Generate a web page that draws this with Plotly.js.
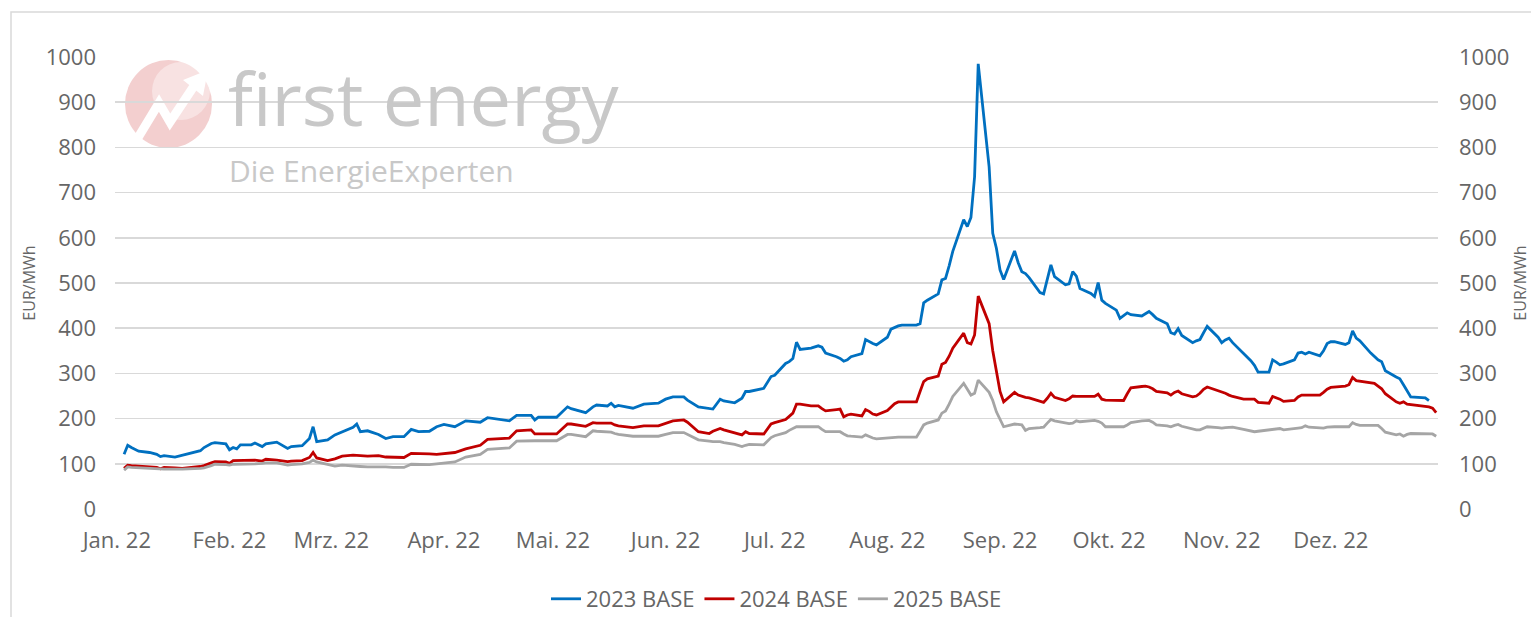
<!DOCTYPE html>
<html>
<head>
<meta charset="utf-8">
<script src="https://cdn.plot.ly/plotly-3.0.1.min.js"></script>
<style>
  html, body { margin: 0; padding: 0; background: #fff; }
  #chart { width: 1531px; height: 617px; }
</style>
</head>
<body>
<div id="chart"></div>
<script>
// trading days 2022
var dates = [
  '2022-01-03','2022-01-04','2022-01-05','2022-01-07','2022-01-10','2022-01-12','2022-01-13','2022-01-14','2022-01-17','2022-01-19','2022-01-24','2022-01-25','2022-01-27','2022-01-28','2022-01-31',
  '2022-02-01','2022-02-02','2022-02-03','2022-02-04','2022-02-07','2022-02-08','2022-02-10','2022-02-11','2022-02-14','2022-02-17','2022-02-18','2022-02-21','2022-02-23','2022-02-24','2022-02-25','2022-02-28',
  '2022-03-02','2022-03-04','2022-03-07','2022-03-08','2022-03-09','2022-03-11','2022-03-14','2022-03-16','2022-03-18','2022-03-21','2022-03-23','2022-03-25','2022-03-28','2022-03-30',
  '2022-04-01','2022-04-04','2022-04-07','2022-04-11','2022-04-13','2022-04-19','2022-04-21','2022-04-25','2022-04-26','2022-04-27',
  '2022-05-02','2022-05-05','2022-05-06','2022-05-10','2022-05-12','2022-05-13','2022-05-16','2022-05-17','2022-05-18','2022-05-19','2022-05-23','2022-05-26','2022-05-30',
  '2022-06-01','2022-06-03','2022-06-06','2022-06-07','2022-06-10','2022-06-13','2022-06-14','2022-06-16','2022-06-17','2022-06-20','2022-06-22','2022-06-23','2022-06-24','2022-06-28','2022-06-30',
  '2022-07-01','2022-07-04','2022-07-05','2022-07-06','2022-07-07','2022-07-08','2022-07-11','2022-07-12','2022-07-13','2022-07-14','2022-07-15','2022-07-18','2022-07-19','2022-07-20','2022-07-21','2022-07-22','2022-07-25','2022-07-26','2022-07-27','2022-07-28','2022-07-29',
  '2022-08-01','2022-08-02','2022-08-03','2022-08-04','2022-08-05','2022-08-08','2022-08-09','2022-08-10','2022-08-11','2022-08-12','2022-08-15','2022-08-16','2022-08-17','2022-08-18','2022-08-19','2022-08-22','2022-08-23','2022-08-24','2022-08-25','2022-08-26','2022-08-29','2022-08-30','2022-08-31',
  '2022-09-01','2022-09-02','2022-09-05','2022-09-06','2022-09-07','2022-09-08','2022-09-09','2022-09-12','2022-09-13','2022-09-14','2022-09-15','2022-09-16','2022-09-19','2022-09-20','2022-09-21','2022-09-22','2022-09-23','2022-09-26','2022-09-27','2022-09-28','2022-09-29','2022-09-30',
  '2022-10-03','2022-10-04','2022-10-05','2022-10-06','2022-10-07','2022-10-10','2022-10-11','2022-10-12','2022-10-13','2022-10-14','2022-10-17','2022-10-18','2022-10-19','2022-10-20','2022-10-21','2022-10-24','2022-10-25','2022-10-26','2022-10-27','2022-10-28','2022-10-31',
  '2022-11-01','2022-11-02','2022-11-03','2022-11-04','2022-11-07','2022-11-08','2022-11-09','2022-11-10','2022-11-11','2022-11-14','2022-11-15','2022-11-16','2022-11-17','2022-11-18','2022-11-21','2022-11-22','2022-11-23','2022-11-24','2022-11-25','2022-11-28','2022-11-29','2022-11-30',
  '2022-12-01','2022-12-02','2022-12-05','2022-12-06','2022-12-07','2022-12-08','2022-12-09','2022-12-12','2022-12-13','2022-12-14','2022-12-15','2022-12-16','2022-12-19','2022-12-20','2022-12-21','2022-12-22','2022-12-23','2022-12-27','2022-12-28','2022-12-29','2022-12-30'
];

var base2023 = [
  121,141,136,128,125,121,116,118,115,119,129,136,145,147,144,
  131,136,133,142,142,146,138,144,148,134,138,140,156,182,149,153,
  164,171,181,188,171,173,165,156,160,160,176,171,172,182,
  187,182,195,192,202,195,207,207,197,203,
  203,226,222,213,226,230,228,234,226,229,223,232,234,
  243,248,248,241,226,221,221,243,239,235,245,260,260,267,293,
  296,322,326,333,369,353,356,359,361,358,345,337,333,327,330,337,344,375,370,366,363,
  380,398,402,405,407,407,407,410,456,462,476,507,510,538,570,640,625,645,735,985,757,610,577,
  529,508,571,545,525,521,512,479,476,505,540,514,496,498,525,515,488,477,470,501,462,455,
  440,422,428,434,430,427,432,437,430,422,410,390,387,399,384,368,372,375,390,404,380,
  368,374,378,368,345,337,328,318,303,303,330,325,319,321,330,345,347,343,347,339,350,366,
  370,370,364,368,394,378,372,345,338,330,326,306,292,288,275,260,248,246,240,null,null
];

var base2024 = [
  90,97,96,95,94,92,89,92,91,90,94,96,102,105,104,
  101,107,107,108,108,108,106,110,108,105,106,107,114,125,113,107,
  111,117,119,118,118,117,118,115,114,114,123,123,122,121,
  122,125,133,141,154,157,173,175,166,166,
  166,188,188,183,191,190,190,190,186,184,180,184,184,
  189,195,197,192,171,167,172,178,175,169,164,171,167,166,188,
  191,198,205,212,232,232,228,228,228,222,217,220,221,204,208,210,206,220,216,210,208,
  218,226,233,237,237,237,237,260,282,288,294,320,324,338,356,389,368,365,385,471,410,350,300,
  260,237,258,252,249,247,246,238,236,245,256,247,240,244,250,249,249,249,249,254,243,241,
  240,239,240,255,268,271,272,270,266,260,257,252,258,261,255,248,250,256,265,270,262,
  258,256,252,249,243,243,243,243,236,234,249,246,243,238,240,248,252,252,252,252,258,265,
  269,270,272,275,291,284,283,280,278,272,266,255,237,234,237,232,231,228,226,223,213
];

var base2025 = [
  86,93,92,91,90,88,87,88,88,88,90,91,96,99,98,
  97,99,99,100,100,100,101,102,102,97,98,100,103,108,104,98,
  95,97,96,96,94,93,94,93,92,92,99,98,98,100,
  101,104,115,121,132,135,150,152,151,151,
  151,165,165,160,173,172,171,170,167,165,161,161,161,
  165,169,169,165,153,150,149,149,147,143,138,141,143,142,158,
  162,169,174,178,182,182,182,182,182,176,171,171,171,166,162,161,159,164,160,157,155,
  157,159,159,159,159,159,159,172,186,190,197,212,217,232,249,278,265,252,256,285,258,240,215,
  198,182,188,187,186,174,178,180,181,190,198,195,190,189,190,195,193,194,196,194,190,182,
  181,182,182,186,191,195,196,196,192,186,184,182,185,187,183,176,175,175,179,182,180,
  179,180,181,181,176,174,172,171,172,175,176,177,178,175,177,179,180,184,181,179,179,181,
  182,182,182,182,191,187,185,185,185,185,178,170,164,166,161,165,167,167,167,166,161
];

var seriesNames = ['2023 BASE', '2024 BASE', '2025 BASE'];
var seriesColors = ['#0070c0', '#c00000', '#a5a5a5'];
var monthTicks = ['2022-01-01','2022-02-01','2022-03-01','2022-04-01','2022-05-01','2022-06-01',
                  '2022-07-01','2022-08-01','2022-09-01','2022-10-01','2022-11-01','2022-12-01'];
var monthLabels = ['Jan. 22','Feb. 22','Mrz. 22','Apr. 22','Mai. 22','Jun. 22',
                   'Jul. 22','Aug. 22','Sep. 22','Okt. 22','Nov. 22','Dez. 22'];

// page geometry in pixels, used to place the watermark and frame
var W = 1531, H = 617, ML = 115, MR = 93, MT = 57, MB = 108;
function px(x) { return (x - ML) / (W - ML - MR); }
function py(y) { return (H - MB - y) / (H - MT - MB); }
function pathFrom(points) {
  return points.map(function (p, i) {
    return (i ? 'L' : 'M') + px(p[0]).toFixed(5) + ',' + py(p[1]).toFixed(5);
  }).join(' ');
}

var fontFam = 'Open Sans, sans-serif';
var textGrey = '#666666';

var data = [
  { x: dates, y: base2023, name: seriesNames[0], type: 'scatter', mode: 'lines', yaxis: 'y2',
    line: { color: seriesColors[0], width: 2.8 }, connectgaps: false },
  { x: dates, y: base2024, name: seriesNames[1], type: 'scatter', mode: 'lines',
    line: { color: seriesColors[1], width: 2.8 } },
  { x: dates, y: base2025, name: seriesNames[2], type: 'scatter', mode: 'lines',
    line: { color: seriesColors[2], width: 2.8 } }
];

var layout = {
  width: W, height: H,
  margin: { l: ML, r: MR, t: MT, b: MB, autoexpand: false },
  paper_bgcolor: '#ffffff', plot_bgcolor: '#ffffff',
  font: { family: fontFam, size: 22, color: textGrey },
  hovermode: false,
  showlegend: true,
  legend: {
    orientation: 'h', x: 0.5, xanchor: 'center', y: py(599), yanchor: 'middle',
    font: { family: fontFam, size: 22, color: textGrey }, bgcolor: 'rgba(0,0,0,0)'
  },
  xaxis: {
    type: 'date', range: ['2021-12-31 12:00', '2022-12-30 12:00'],
    tickmode: 'array', tickvals: monthTicks, ticktext: monthLabels,
    showgrid: false, zeroline: false, showline: false, ticks: '',
    ticklabelstandoff: 16,
    tickfont: { family: fontFam, size: 22, color: textGrey }
  },
  yaxis: {
    range: [0, 1000], tick0: 0, dtick: 100,
    showgrid: true, gridcolor: '#d9d9d9', gridwidth: 1.5,
    zeroline: false, showline: false, ticks: '',
    ticklabelstandoff: 18,
    tickfont: { family: fontFam, size: 22, color: textGrey },
    title: { text: 'EUR/MWh', standoff: 6, font: { family: fontFam, size: 16, color: textGrey } }
  },
  yaxis2: {
    overlaying: 'y', side: 'right',
    range: [0, 1000], tick0: 0, dtick: 100,
    showgrid: false, zeroline: false, showline: false, ticks: '',
    ticklabelstandoff: 20,
    tickfont: { family: fontFam, size: 22, color: textGrey },
    title: { text: 'EUR/MWh', standoff: 30, font: { family: fontFam, size: 16, color: textGrey } }
  },
  shapes: [
    // outer frame
    { type: 'rect', xref: 'paper', yref: 'paper', layer: 'below',
      x0: px(11), x1: px(1560), y0: py(640), y1: py(12),
      line: { color: '#d9d9d9', width: 1.5 }, fillcolor: 'rgba(0,0,0,0)' },
    // logo disc
    { type: 'circle', xref: 'paper', yref: 'paper', layer: 'below',
      x0: px(125), x1: px(212), y0: py(148), y1: py(60),
      line: { width: 0 }, fillcolor: '#f3cfcf' },
    { type: 'circle', xref: 'paper', yref: 'paper', layer: 'below',
      x0: px(152), x1: px(210), y0: py(120), y1: py(62),
      line: { width: 0 }, fillcolor: 'rgba(255,255,255,0.4)' },
    // logo zigzag arrow
    { type: 'path', xref: 'paper', yref: 'paper', layer: 'below',
      path: pathFrom([[136, 141], [159, 103], [170, 122], [194, 86]]),
      line: { color: '#ffffff', width: 9 } },
    { type: 'path', xref: 'paper', yref: 'paper', layer: 'below',
      path: pathFrom([[183, 80], [208, 70], [203, 96]]) + ' Z',
      line: { width: 0 }, fillcolor: '#ffffff' }
  ],
  annotations: [
    { text: 'first energy', xref: 'paper', yref: 'paper', x: px(226), y: py(98),
      xanchor: 'left', yanchor: 'middle', showarrow: false,
      font: { family: fontFam, size: 74, color: '#c8c8c8' } },
    { text: 'Die EnergieExperten', xref: 'paper', yref: 'paper', x: px(227), y: py(170),
      xanchor: 'left', yanchor: 'middle', showarrow: false,
      font: { family: fontFam, size: 30, color: '#c8c8c8' } }
  ]
};

var config = { displayModeBar: false, responsive: false, staticPlot: true };

Plotly.newPlot('chart', data, layout, config);
</script>
</body>
</html>
